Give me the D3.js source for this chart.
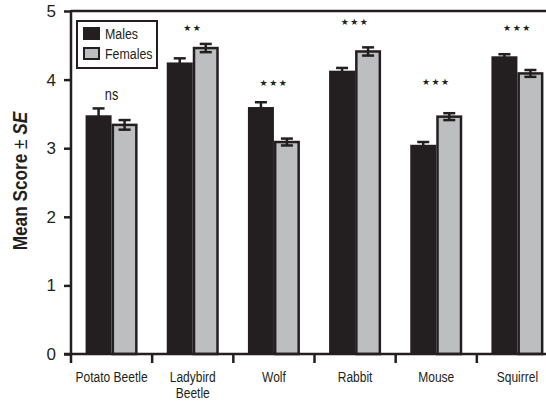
<!DOCTYPE html>
<html><head><meta charset="utf-8">
<script src="https://cdn.jsdelivr.net/npm/d3@7"></script>
<style>body{margin:0;background:#fff}</style>
</head><body>
<svg id="c" width="546" height="402"></svg>
<script>
const categories = ["Potato Beetle", "Ladybird\nBeetle", "Wolf", "Rabbit", "Mouse", "Squirrel"];
const males      = [3.48, 4.25, 3.60, 4.13, 3.05, 4.34];
const malesSE    = [0.10, 0.06, 0.07, 0.04, 0.04, 0.03];
const females    = [3.34, 4.46, 3.09, 4.41, 3.46, 4.09];
const femalesSE  = [0.07, 0.06, 0.05, 0.06, 0.05, 0.05];
const significance = ["ns", "**", "***", "***", "***", "***"];
const sigLevel   = [3.78, 4.75, 3.95, 4.84, 3.97, 4.75];
const yTicks     = [0, 1, 2, 3, 4, 5];
const seriesNames = ["Males", "Females"];

const DARK = "#231f20", GRAY = "#bcbec0";
const SANS = "'Liberation Sans',Arimo,Arial,sans-serif";
const SQ = "scale(0.8,1)";

const svg = d3.select("#c");
const mLeft = 71, mRight = 558, mTop = 11, mBottom = 354;
const x = d3.scaleBand().domain(categories).range([mLeft, mRight]).padding(0);
const y = d3.scaleLinear().domain([0, 5]).range([mBottom, mTop]);
const barW = 26;
const data = categories.map((c, i) => ({c, i, m: males[i], ms: malesSE[i], f: females[i], fs: femalesSE[i]}));
const cx = d => x(d.c) + x.bandwidth() / 2;

// bars
const g = svg.append("g");
g.selectAll(".m").data(data).join("rect").attr("class", "m")
  .attr("x", d => cx(d) - barW).attr("width", barW)
  .attr("y", d => y(d.m)).attr("height", d => y(0) - y(d.m))
  .attr("fill", DARK);
g.selectAll(".f").data(data).join("rect").attr("class", "f")
  .attr("x", d => cx(d) + 1.25).attr("width", barW - 2.5)
  .attr("y", d => y(d.f)).attr("height", d => y(0) - y(d.f))
  .attr("fill", GRAY).attr("stroke", DARK).attr("stroke-width", 2.5);

// error bars
function errBars(cls, getX, getV, getS) {
  const e = g.selectAll("." + cls).data(data).join("g").attr("class", cls);
  e.append("line").attr("x1", getX).attr("x2", getX)
    .attr("y1", d => y(getV(d) - getS(d))).attr("y2", d => y(getV(d) + getS(d)))
    .attr("stroke", DARK).attr("stroke-width", 2.5);
  [1, -1].forEach(s => e.append("line")
    .attr("x1", d => getX(d) - 6).attr("x2", d => getX(d) + 6)
    .attr("y1", d => y(getV(d) + s * getS(d))).attr("y2", d => y(getV(d) + s * getS(d)))
    .attr("stroke", DARK).attr("stroke-width", 2.5));
}
errBars("em", d => cx(d) - barW / 2, d => d.m, d => d.ms);
errBars("ef", d => cx(d) + barW / 2, d => d.f, d => d.fs);

// significance labels
svg.selectAll(".sig").data(data).join("g").attr("class", "sig")
  .attr("transform", d => `translate(${cx(d)},${y(sigLevel[d.i])})`)
  .each(function(d) {
    const s = significance[d.i];
    const t = d3.select(this).append("text").attr("text-anchor", "middle").attr("fill", DARK);
    if (s === "ns") {
      t.attr("dy", "0.3em").attr("transform", SQ).style("font-family", SANS).style("font-size", "16px").text(s);
    } else {
      t.attr("dy", "0.36em").style("font-family", "'DejaVu Sans',sans-serif").style("font-size", "9px")
       .style("letter-spacing", "1.5px").text(s.replace(/\*/g, "\u2605"));
    }
  });

// top frame line
svg.append("line").attr("x1", mLeft).attr("x2", 546).attr("y1", mTop).attr("y2", mTop)
  .attr("stroke", DARK).attr("stroke-width", 2.5);

// y axis
const yAx = svg.append("g").attr("transform", `translate(${mLeft},0)`)
  .call(d3.axisLeft(y).tickValues(yTicks).tickFormat(d3.format("d")).tickSize(7).tickSizeOuter(0).tickPadding(8));
yAx.select(".domain").remove();
yAx.selectAll(".tick line").attr("stroke", DARK).attr("stroke-width", 2.5);
yAx.selectAll(".tick text").style("font-family", SANS).style("font-size", "17px").attr("fill", DARK);
svg.append("line").attr("x1", mLeft).attr("x2", mLeft).attr("y1", mTop - 1).attr("y2", mBottom + 9)
  .attr("stroke", DARK).attr("stroke-width", 2.5);

// x axis
svg.append("line").attr("x1", mLeft - 7).attr("x2", 546).attr("y1", mBottom).attr("y2", mBottom)
  .attr("stroke", DARK).attr("stroke-width", 2.5);
const xAx = svg.append("g").attr("transform", `translate(0,${mBottom})`)
  .call(d3.axisBottom(x).tickSize(0).tickSizeOuter(0).tickPadding(17));
xAx.select(".domain").remove();
xAx.selectAll(".tick text").attr("transform", SQ).style("font-family", SANS).style("font-size", "15px").attr("fill", DARK)
  .each(function(d) {
    const t = d3.select(this), lines = d.split("\n");
    t.text(null);
    lines.forEach((l, k) => t.append("tspan").attr("x", 0).attr("dy", k === 0 ? "0.71em" : "1.08em").text(l));
  });
svg.selectAll(".xb").data(categories.slice(1)).join("line").attr("class", "xb")
  .attr("x1", d => x(d)).attr("x2", d => x(d)).attr("y1", mBottom).attr("y2", mBottom + 9)
  .attr("stroke", DARK).attr("stroke-width", 2.5);

// y title
const yt = svg.append("text").attr("transform", "translate(27,181) rotate(-90) scale(0.82,1)")
  .attr("text-anchor", "middle").style("font-family", SANS).style("font-size", "21px")
  .style("font-weight", "bold").attr("fill", DARK);
yt.append("tspan").text("Mean Score ");
yt.append("tspan").style("font-weight", "normal").text("\u00b1 ");
yt.append("tspan").style("font-style", "italic").text("SE");

// legend
const lg = svg.append("g");
lg.append("rect").attr("x", 77).attr("y", 21).attr("width", 80).attr("height", 47)
  .attr("fill", "#fff").attr("stroke", DARK).attr("stroke-width", 2);
seriesNames.forEach((n, k) => {
  lg.append("rect").attr("x", 84).attr("y", 28 + k * 20).attr("width", 15).attr("height", 11)
    .attr("fill", k === 0 ? DARK : GRAY).attr("stroke", DARK).attr("stroke-width", 2);
  lg.append("g").attr("transform", `translate(105,${39 + k * 20})`)
    .append("text").attr("transform", SQ).style("font-family", SANS)
    .style("font-size", "15.5px").attr("fill", DARK).text(n);
});
</script>
</body></html>
